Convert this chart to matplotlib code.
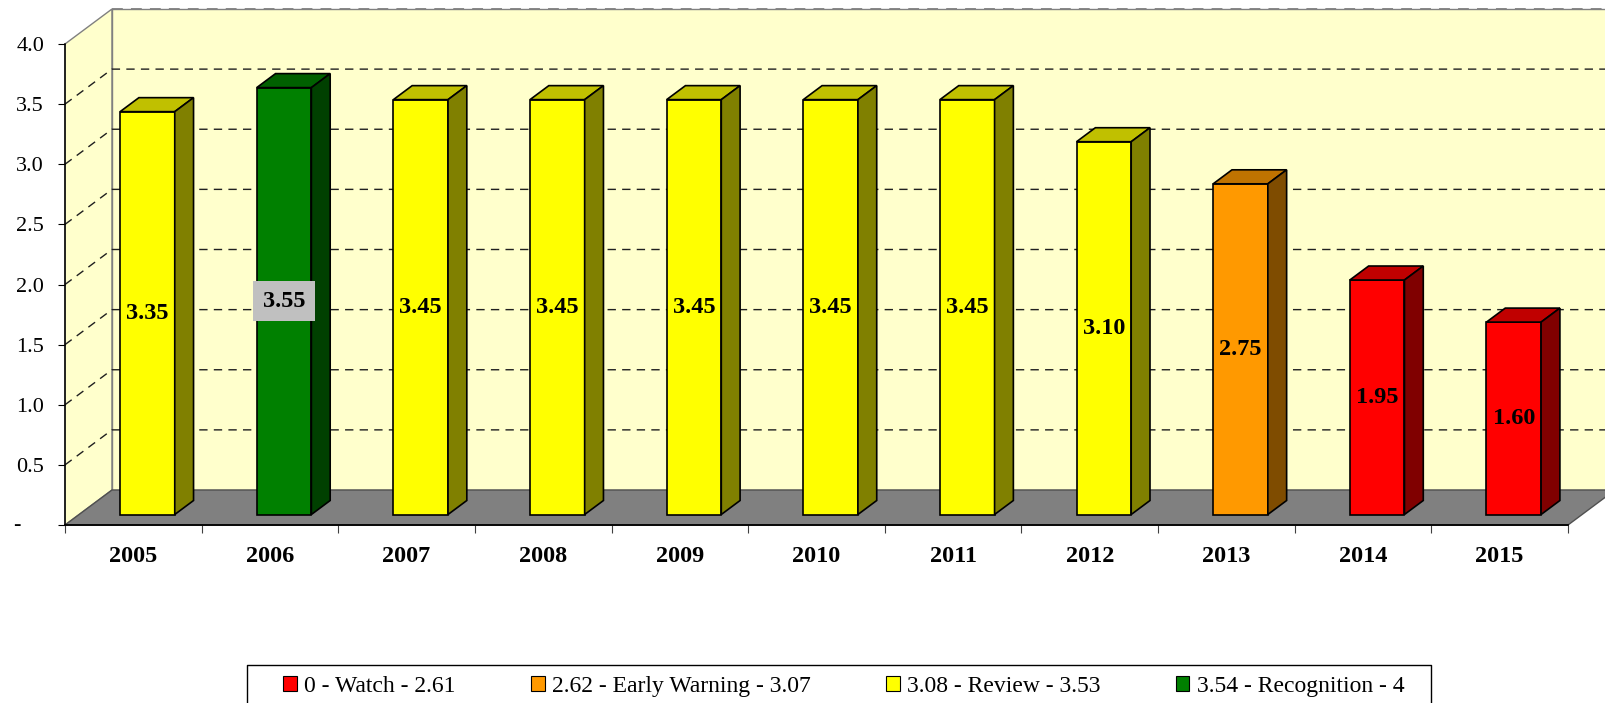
import numpy as np
import matplotlib.pyplot as plt
from matplotlib.patches import Polygon, Patch
from matplotlib.lines import Line2D

plt.rcParams['font.family'] = ['Liberation Serif', 'DejaVu Serif']

# ---- data
years = ['2005', '2006', '2007', '2008', '2009', '2010',
         '2011', '2012', '2013', '2014', '2015']
scores = [3.35, 3.55, 3.45, 3.45, 3.45, 3.45, 3.45, 3.10, 2.75, 1.95, 1.60]

band_lows = [0, 2.62, 3.08, 3.54]
band_labels = ['0 - Watch - 2.61', '2.62 - Early Warning - 3.07',
               '3.08 - Review - 3.53', '3.54 - Recognition - 4']
band_front = ['#FF0000', '#FF9900', '#FFFF00', '#008000']
band_top = ['#C00000', '#C07300', '#C0C000', '#006000']
band_side = ['#800000', '#7F4C00', '#808000', '#004000']
boxed_band = 3  # labels on green bars get a grey box

yticks = [0, 0.5, 1.0, 1.5, 2.0, 2.5, 3.0, 3.5, 4.0]
ytick_labels = ['', '0.5', '1.0', '1.5', '2.0', '2.5', '3.0', '3.5', '4.0']

# ---- layout (pixels of a 1606x703 canvas)
W, H = 1606, 703
fig = plt.figure(figsize=(W / 100, H / 100), dpi=100)
ax = fig.add_axes([65 / W, (H - 525) / H, 1503 / W, 481 / H])
n = len(years)
ax.set_xlim(0, n)
ax.set_ylim(0, 4)
ax.patch.set_visible(False)

# oblique "3D" depth, in data units
DX = 47 / (1503 / n)
DY = 35 / (481 / 4)
D0, D1 = 0.3, 0.7      # bar depth span
BW = 0.4               # bar width (category fraction)

wall = '#FFFFCC'
edge = '#808080'
top_v = yticks[-1]
dash = (0, (6, 4.5))

# walls + floor
ax.add_patch(Polygon([(0, 0), (0, top_v), (DX, top_v + DY), (DX, DY)],
                     fc=wall, ec=edge, lw=1, clip_on=False, zorder=0))
ax.add_patch(Polygon([(DX, DY), (DX, top_v + DY), (n + DX, top_v + DY), (n + DX, DY)],
                     fc=wall, ec=edge, lw=1, clip_on=False, zorder=0))
for v in yticks[1:-1]:
    ax.plot([0, DX, n + DX], [v, v + DY, v + DY], color='#202020', lw=1.0,
            ls=dash, clip_on=False, zorder=0.2)
ax.plot([DX, n + DX], [top_v + DY] * 2, color=edge, lw=1.3, ls=dash,
        clip_on=False, zorder=0.2)
ax.add_patch(Polygon([(0, 0), (n, 0), (n + DX, DY), (DX, DY)],
                     fc='#808080', ec='#505050', lw=1, clip_on=False, zorder=0.5))

# bars
ddx, ddy = (D1 - D0) * DX, (D1 - D0) * DY
for i, v in enumerate(scores):
    b = max(k for k, lo in enumerate(band_lows) if v >= lo)
    x0 = i + (1 - BW) / 2 + D0 * DX
    x1 = x0 + BW
    y0 = D0 * DY
    y1 = v + D0 * DY
    kw = dict(ec='black', lw=1.2, joinstyle='miter', zorder=3)
    ax.add_patch(Polygon([(x0, y0), (x1, y0), (x1, y1), (x0, y1)], fc=band_front[b], **kw))
    ax.add_patch(Polygon([(x0, y1), (x1, y1), (x1 + ddx, y1 + ddy), (x0 + ddx, y1 + ddy)],
                         fc=band_top[b], **kw))
    ax.add_patch(Polygon([(x1, y0), (x1 + ddx, y0 + ddy), (x1 + ddx, y1 + ddy), (x1, y1)],
                         fc=band_side[b], **kw))
    bbox = dict(boxstyle='square,pad=0.4', fc='#C0C0C0', ec='none') if b == boxed_band else None
    ax.text((x0 + x1) / 2, v / 2 + y0, f'{v:.2f}', ha='center', va='center',
            fontsize=17.5, fontweight='bold', zorder=5, bbox=bbox)

# axes, ticks
for s in ['top', 'right']:
    ax.spines[s].set_visible(False)
ax.spines['left'].set_linewidth(1.1)
ax.spines['bottom'].set_linewidth(1.3)
ax.set_yticks(yticks, ytick_labels)
ax.tick_params(axis='y', length=5, width=0.8, pad=10, labelsize=16)
ax.annotate('-', xy=(0, 0), xytext=(-37, 0), textcoords='offset points',
            ha='left', va='center', fontsize=16)
ax.set_xticks(np.arange(n + 1))
ax.set_xticklabels([])
ax.set_xticks(np.arange(n) + 0.5, years, minor=True)
ax.tick_params(axis='x', which='major', length=6, width=0.8, color='#404040')
ax.tick_params(axis='x', which='minor', length=0, pad=15, labelsize=17.5)
for t in ax.get_xticklabels(minor=True):
    t.set_fontweight('bold')

# legend
handles = [Patch(fc=c, ec='black', lw=0.8) for c in band_front]
fig.legend(handles, band_labels, loc='upper left',
           bbox_to_anchor=(283 / W, 1 - 676 / H), ncol=4, fontsize=17,
           frameon=False, borderpad=0, borderaxespad=0, handlelength=0.58,
           handleheight=0.62, handletextpad=0.3, columnspacing=3.2)
fig.add_artist(Line2D([247 / W, 247 / W, 1431 / W, 1431 / W],
                      [0, 1 - 665 / H, 1 - 665 / H, 0],
                      transform=fig.transFigure, color='black', lw=1))

plt.savefig('out.png', dpi=100)
